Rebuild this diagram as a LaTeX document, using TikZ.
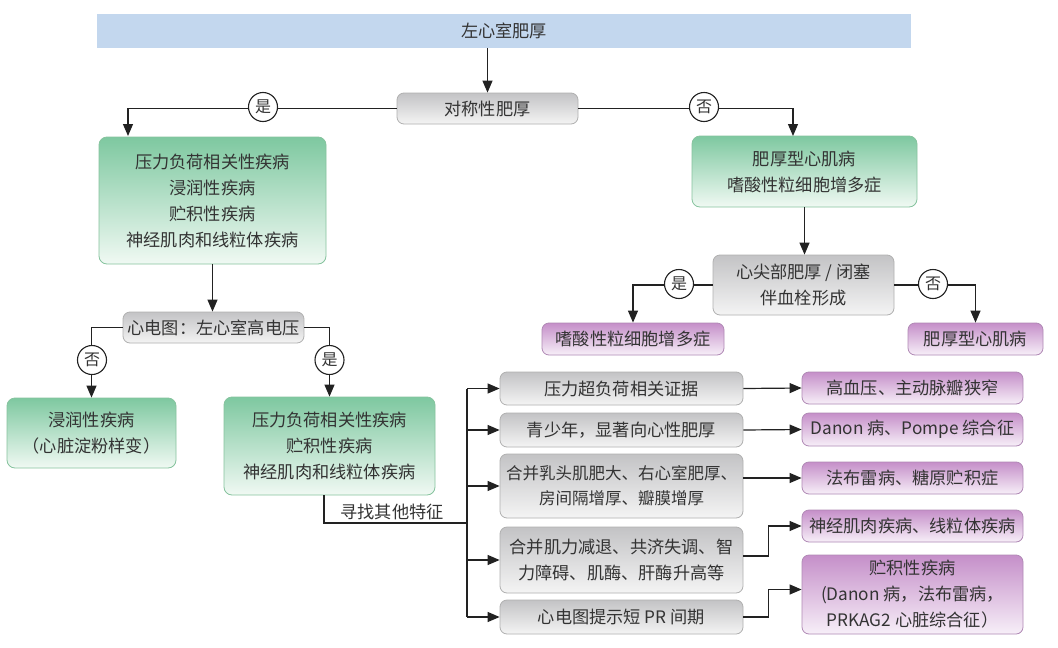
\documentclass[tikz,border=0pt]{standalone}
\usepackage{fontspec}
\setmainfont{Noto Sans CJK SC}
\usetikzlibrary{arrows.meta}
\definecolor{txt}{HTML}{333333}
\definecolor{barblue}{HTML}{C3D7EE}
\definecolor{gtop}{HTML}{7EC8A0}
\definecolor{gbot}{HTML}{F0F9F3}
\definecolor{gline}{HTML}{86C39E}
\definecolor{ytop}{HTML}{C3C3C5}
\definecolor{ybot}{HTML}{F4F4F4}
\definecolor{yline}{HTML}{B0B0B0}
\definecolor{ptop}{HTML}{C58FC9}
\definecolor{pbot}{HTML}{F7EFF8}
\definecolor{pline}{HTML}{B089B5}
\definecolor{conn}{HTML}{222222}
\tikzset{
  lbl/.style={text=txt, font=\fontsize{17.2}{26}\selectfont, align=center, inner sep=0pt},
  greenbox/.style={lbl, rounded corners=8pt, draw=gline, line width=0.8pt, top color=gtop, bottom color=gbot},
  graybox/.style={lbl, rounded corners=7pt, draw=yline, line width=0.8pt, top color=ytop, bottom color=ybot},
  purplebox/.style={lbl, rounded corners=7pt, draw=pline, line width=0.8pt, top color=ptop, bottom color=pbot},
  conline/.style={draw=conn, line width=1.2pt},
  arr/.style={conline, -{Triangle[length=12pt,width=10pt]}},
  yn/.style={circle, draw=conn, line width=1.1pt, fill=white, minimum size=29pt, inner sep=0pt, text=txt, font=\fontsize{16}{16}\selectfont},
}
\begin{document}
\begin{tikzpicture}[x=1pt,y=-1pt]
\useasboundingbox (0,0) rectangle (1058,648);
\fill[white] (0,0) rectangle (1058,648);

% top bar
\node[lbl, fill=barblue, minimum width=814pt, minimum height=34pt] (top) at (504,31) {左心室肥厚};
\node[graybox, minimum width=181pt, minimum height=31pt] (sym) at (487.5,108.5) {对称性肥厚};

\node[greenbox, minimum width=227pt, minimum height=127pt] (g1) at (212.5,200.5) {压力负荷相关性疾病\\浸润性疾病\\贮积性疾病\\神经肌肉和线粒体疾病};
\node[greenbox, minimum width=225pt, minimum height=71pt] (g2) at (804.5,171.5) {肥厚型心肌病\\嗜酸性粒细胞增多症};

\node[graybox, minimum width=181pt, minimum height=60pt] (apex) at (803.5,285) {心尖部肥厚 / 闭塞\\伴血栓形成};
\node[purplebox, minimum width=182pt, minimum height=32pt] (peos) at (633,339) {嗜酸性粒细胞增多症};
\node[purplebox, minimum width=135pt, minimum height=32pt] (phcm) at (975.5,339) {肥厚型心肌病};

\node[graybox, minimum width=181pt, minimum height=31pt] (ecg) at (213.5,327.5) {心电图：左心室高电压};
\node[greenbox, minimum width=169pt, minimum height=70pt] (g3) at (91.5,433) {浸润性疾病\\（心脏淀粉样变）};
\node[greenbox, minimum width=211pt, minimum height=98pt] (g4) at (329.5,446) {压力负荷相关性疾病\\贮积性疾病\\神经肌肉和线粒体疾病};

% middle column
\node[graybox, minimum width=243pt, minimum height=33pt] (b1) at (621.5,388.5) {压力超负荷相关证据};
\node[graybox, minimum width=243pt, minimum height=34pt] (b2) at (621.5,430) {青少年，显著向心性肥厚};
\node[graybox, minimum width=243pt, minimum height=64pt, font=\fontsize{16.5}{25}\selectfont] (b3) at (621.5,486) {合并乳头肌肥大、右心室肥厚、\\房间隔增厚、瓣膜增厚};
\node[graybox, minimum width=243pt, minimum height=66pt] (b4) at (621.5,560) {合并肌力减退、共济失调、智\\力障碍、肌酶、肝酶升高等};
\node[graybox, minimum width=243pt, minimum height=34pt] (b5) at (621.5,617) {心电图提示短 PR 间期};

% right column
\node[purplebox, minimum width=221pt, minimum height=32pt] (q1) at (912.5,388) {高血压、主动脉瓣狭窄};
\node[purplebox, minimum width=221pt, minimum height=33pt] (q2) at (912.5,429.5) {Danon 病、Pompe 综合征};
\node[purplebox, minimum width=221pt, minimum height=32pt] (q3) at (912.5,478) {法布雷病、糖原贮积症};
\node[purplebox, minimum width=221pt, minimum height=32pt] (q4) at (912.5,526) {神经肌肉疾病、线粒体疾病};
\node[purplebox, minimum width=221pt, minimum height=79pt] (q5) at (912.5,594.5) {贮积性疾病\\(Danon 病，法布雷病，\\PRKAG2 心脏综合征）};

% connectors
\draw[arr] (top.south -| sym.north) -- (sym.north);
\coordinate (c1) at (128,136);
\coordinate (c2) at (793,136);
\draw[arr] (sym.west) -| (c1);
\draw[arr] (sym.east) -| (c2);
\node[yn] (y1) at (263,107) {是};
\node[yn] (n1) at (704,107) {否};

\draw[arr] (g1.south) -- (g1.south |- ecg.north);
\draw[arr] (ecg.west) -| (g3.north);
\draw[arr] (ecg.east) -| (g4.north);
\node[yn] (n2) at (92,360) {否};
\node[yn] (y2) at (g4.north |- 0,360) {是};

\draw[arr] (g2.south) -- (g2.south |- apex.north);
\draw[arr] (apex.west) -| (peos.north);
\draw[arr] (apex.east) -| (phcm.north);
\node[yn] (y3) at (679,284) {是};
\node[yn] (n3) at (933,284) {否};

\coordinate (gs) at (324,495);
\coordinate (j) at (467,523);
\draw[conline] (gs) |- (j);
\node[lbl, anchor=south] (look) at (392,520) {寻找其他特征};
\coordinate (vt) at (467,388.5);
\coordinate (vb) at (467,617);
\draw[conline] (vt) -- (vb);
\draw[arr] (vt) -- (b1.west);
\draw[arr] (b2.west -| vt) -- (b2.west);
\draw[arr] (b3.west -| vt) -- (b3.west);
\draw[arr] (b4.west -| vt) -- (b4.west);
\draw[arr] (vb) -- (b5.west);

\draw[arr] (b1.east) -- (q1.west);
\draw[arr] (b2.east) -- (q2.west);
\draw[arr] (b3.east |- q3.west) -- (q3.west);
\draw[arr] ([yshift=4pt]b4.east) -- ++(25,0) |- (q4.west);
\draw[arr] (b5.east) -- ++(25,0) |- ([yshift=5pt]q5.west);
\end{tikzpicture}
\end{document}
